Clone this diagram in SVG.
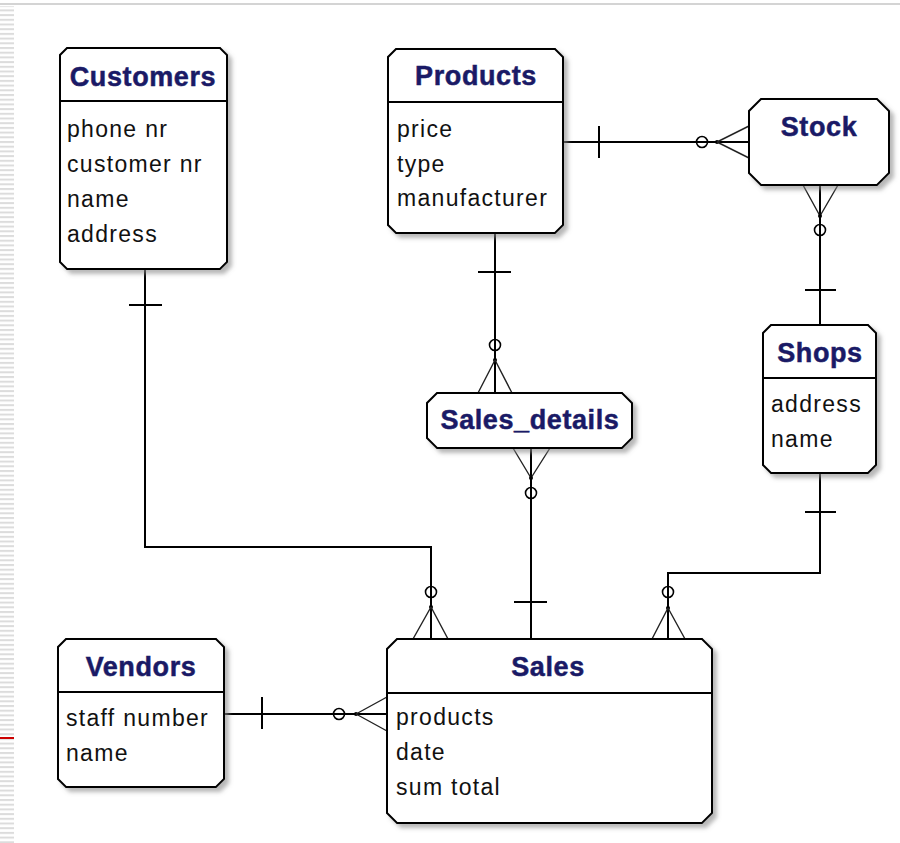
<svg xmlns="http://www.w3.org/2000/svg" width="900" height="843" viewBox="0 0 900 843">
  <defs>
    <pattern id="stripes" x="0" y="0" width="14" height="4.7" patternUnits="userSpaceOnUse">
      <rect x="0" y="0" width="14" height="4.7" fill="#ffffff"/>
      <rect x="0" y="0" width="14" height="2" fill="#dcdcdc"/>
    </pattern>
    <filter id="shadow" x="-10%" y="-10%" width="130%" height="130%">
      <feDropShadow dx="4" dy="4" stdDeviation="2" flood-color="#888888" flood-opacity="0.6"/>
    </filter>
  </defs>
  <style>
    .box { fill: #ffffff; stroke: #000000; stroke-width: 2; filter: url(#shadow); }
    .div { stroke: #000000; stroke-width: 2; }
    .title { font-family: "Liberation Sans", Arial, sans-serif; font-weight: bold; font-size: 27px; letter-spacing: 0.6px; fill: #1a1a66; stroke: #1a1a66; stroke-width: 0.5; text-anchor: middle; }
    .attr { font-family: "Liberation Sans", Arial, sans-serif; font-size: 23px; letter-spacing: 1.3px; fill: #111111; }
    .line { stroke: #000000; stroke-width: 2; fill: none; }
    .prong { stroke: #222222; stroke-width: 1.4; fill: none; }
    .ring { stroke: #000000; stroke-width: 1.6; fill: none; }
    .apex { fill: #000000; }
  </style>

  <!-- page frame -->
  <rect x="0" y="0" width="900" height="843" fill="#ffffff"/>
  <rect x="0" y="6" width="14" height="837" fill="url(#stripes)"/>
  <line x1="0" y1="4" x2="900" y2="4" stroke="#d4d4d4" stroke-width="2"/>
  <line x1="0" y1="738" x2="14" y2="738" stroke="#cc0000" stroke-width="2"/>

  <!-- relationships -->
  <g id="connectors">
    <!-- Products 1 : N Stock -->
    <line class="line" x1="563" y1="142" x2="749" y2="142"/>
    <line class="line" x1="599" y1="126" x2="599" y2="158"/>
    <circle class="ring" cx="702" cy="142" r="5.5"/>
    <circle class="apex" cx="717" cy="142" r="2"/>
    <path class="prong" d="M717,142 L749,126 M717,142 L749,158"/>

    <!-- Stock N : 1 Shops -->
    <line class="line" x1="820" y1="185" x2="820" y2="325"/>
    <path class="prong" d="M820,216 L803,185 M820,216 L838,185"/>
    <circle class="apex" cx="820" cy="216" r="2"/>
    <circle class="ring" cx="820" cy="230" r="5.5"/>
    <line class="line" x1="805" y1="290" x2="836" y2="290"/>

    <!-- Products 1 : N Sales_details -->
    <line class="line" x1="495" y1="233" x2="495" y2="393"/>
    <line class="line" x1="478" y1="272" x2="511" y2="272"/>
    <circle class="ring" cx="495" cy="345" r="5.5"/>
    <circle class="apex" cx="495" cy="360" r="2"/>
    <path class="prong" d="M495,360 L478,393 M495,360 L512,393"/>

    <!-- Sales_details N : 1 Sales -->
    <line class="line" x1="531" y1="448" x2="531" y2="639"/>
    <path class="prong" d="M531,478 L513,448 M531,478 L550,448"/>
    <circle class="apex" cx="531" cy="478" r="2"/>
    <circle class="ring" cx="531" cy="493" r="5.5"/>
    <line class="line" x1="514" y1="602" x2="547" y2="602"/>

    <!-- Customers 1 : N Sales -->
    <polyline class="line" points="145,269 145,547 431,547 431,639"/>
    <line class="line" x1="129" y1="305" x2="162" y2="305"/>
    <circle class="ring" cx="431" cy="592" r="5.5"/>
    <circle class="apex" cx="431" cy="607" r="2"/>
    <path class="prong" d="M431,607 L413,639 M431,607 L448,639"/>

    <!-- Shops 1 : N Sales -->
    <polyline class="line" points="820,473 820,573 668,573 668,639"/>
    <line class="line" x1="805" y1="512" x2="836" y2="512"/>
    <circle class="ring" cx="668" cy="592" r="5.5"/>
    <circle class="apex" cx="668" cy="608" r="2"/>
    <path class="prong" d="M668,608 L652,639 M668,608 L685,639"/>

    <!-- Vendors 1 : N Sales -->
    <line class="line" x1="224" y1="714" x2="387" y2="714"/>
    <line class="line" x1="262" y1="697" x2="262" y2="729"/>
    <circle class="ring" cx="339" cy="714" r="5.5"/>
    <circle class="apex" cx="356" cy="714" r="2"/>
    <path class="prong" d="M356,714 L387,697 M356,714 L387,731"/>
  </g>

  <!-- entities -->
  <g id="customers">
    <path class="box" d="M67,48 H220 L227,55 V262 L220,269 H67 L60,262 V55 Z"/>
    <line class="div" x1="60" y1="101" x2="227" y2="101"/>
    <text class="title" x="143" y="86">Customers</text>
    <text class="attr" x="67" y="137">phone nr</text>
    <text class="attr" x="67" y="172">customer nr</text>
    <text class="attr" x="67" y="207">name</text>
    <text class="attr" x="67" y="242">address</text>
  </g>

  <g id="products">
    <path class="box" d="M396,49 H555 L563,57 V225 L555,233 H396 L388,225 V57 Z"/>
    <line class="div" x1="388" y1="102" x2="563" y2="102"/>
    <text class="title" x="476" y="85">Products</text>
    <text class="attr" x="397" y="137">price</text>
    <text class="attr" x="397" y="172">type</text>
    <text class="attr" x="397" y="206">manufacturer</text>
  </g>

  <g id="stock">
    <path class="box" d="M761,99 H877 L889,111 V173 L877,185 H761 L749,173 V111 Z"/>
    <text class="title" x="819" y="136">Stock</text>
  </g>

  <g id="sales_details">
    <path class="box" d="M437,393 H622 L632,403 V438 L622,448 H437 L427,438 V403 Z"/>
    <text class="title" x="530" y="429">Sales_details</text>
  </g>

  <g id="shops">
    <path class="box" d="M771,325 H868 L876,333 V465 L868,473 H771 L763,465 V333 Z"/>
    <line class="div" x1="763" y1="378" x2="876" y2="378"/>
    <text class="title" x="820" y="362">Shops</text>
    <text class="attr" x="771" y="412">address</text>
    <text class="attr" x="771" y="447">name</text>
  </g>

  <g id="vendors">
    <path class="box" d="M66,639 H216 L224,647 V779 L216,787 H66 L58,779 V647 Z"/>
    <line class="div" x1="58" y1="692" x2="224" y2="692"/>
    <text class="title" x="141" y="676">Vendors</text>
    <text class="attr" x="66" y="726">staff number</text>
    <text class="attr" x="66" y="761">name</text>
  </g>

  <g id="sales">
    <path class="box" d="M397,639 H702 L712,649 V813 L702,823 H397 L387,813 V649 Z"/>
    <line class="div" x1="387" y1="693" x2="712" y2="693"/>
    <text class="title" x="548" y="676">Sales</text>
    <text class="attr" x="396" y="725">products</text>
    <text class="attr" x="396" y="760">date</text>
    <text class="attr" x="396" y="795">sum total</text>
  </g>
</svg>
